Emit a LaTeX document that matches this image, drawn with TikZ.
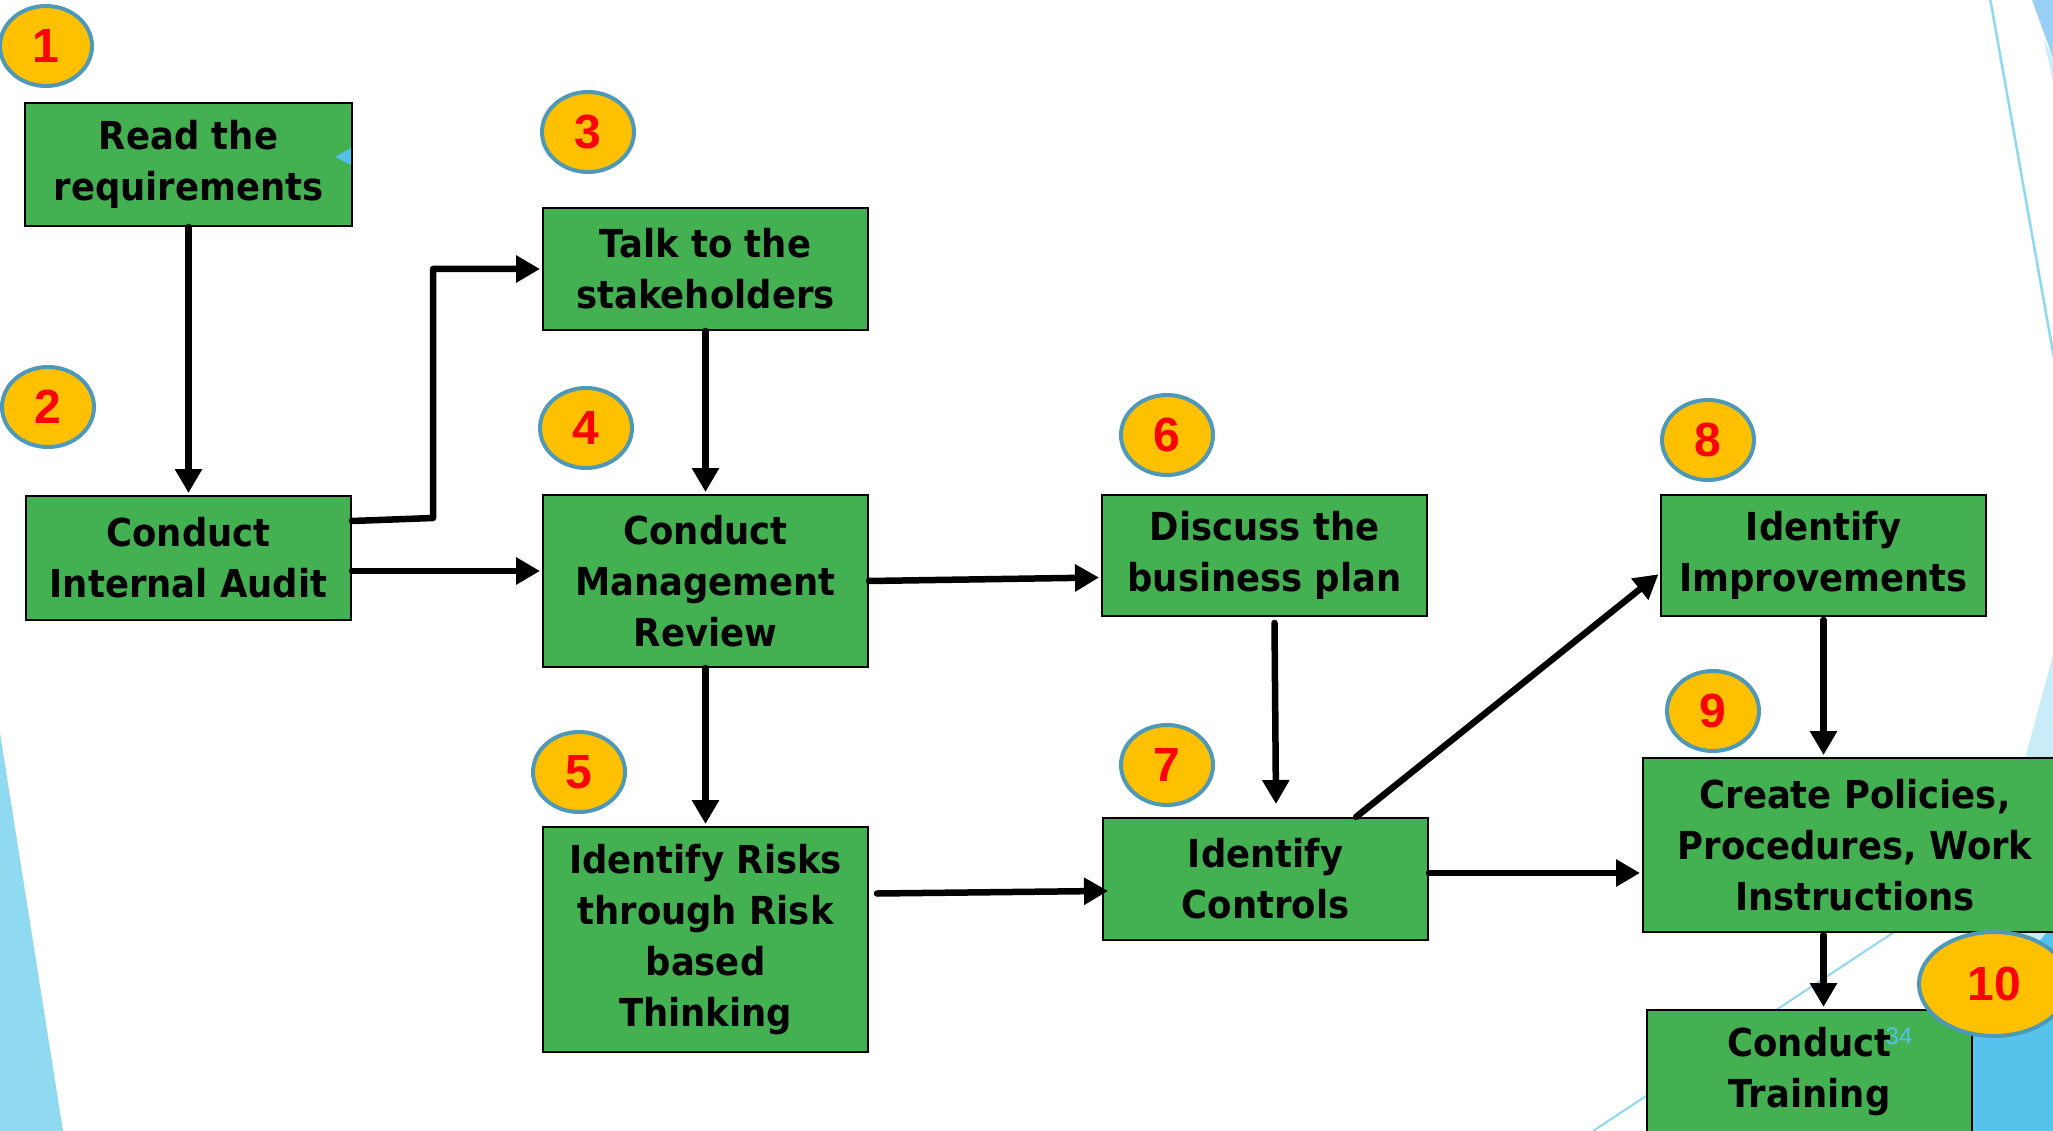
\documentclass[tikz,border=0pt]{standalone}
\usepackage{fontspec}
\setmainfont{DejaVu Sans}
\newfontfamily\boxfont[FakeStretch=0.92]{DejaVu Sans}
\newfontfamily\numfont{Liberation Sans}
\usetikzlibrary{arrows.meta,shapes.geometric}

\definecolor{boxgreen}{HTML}{43B051}
\definecolor{badgefill}{HTML}{FFC000}
\definecolor{badgeedge}{HTML}{4F99B8}
\definecolor{skyline}{HTML}{8ED8F2}
\definecolor{skyfill}{HTML}{8FD9F1}
\definecolor{skypale}{HTML}{C8ECF8}
\definecolor{skydeep}{HTML}{55C3EB}
\definecolor{pagenum}{HTML}{55C1EA}

\tikzset{
  stepbox/.style={draw=black, line width=2pt, fill=boxgreen, anchor=north west,
    inner sep=0pt, align=center, text=black,
    font=\boxfont\bfseries\fontsize{38.5}{51}\selectfont},
  badge/.style={ellipse, draw=badgeedge, line width=4pt, fill=badgefill,
    minimum width=92pt, minimum height=80pt, inner sep=0pt, text=red,
    font=\numfont\bfseries\fontsize{48}{48}\selectfont},
  flow/.style={draw=black, line width=6.5pt, line cap=round, line join=round,
    -{Triangle[length=24pt,width=26pt]}, shorten >=2pt},
}

\begin{document}
\begin{tikzpicture}[x=1pt,y=-1pt]
\useasboundingbox (0,0) rectangle (2053,1131);
\clip (0,0) rectangle (2053,1131);

% slide template decoration
\fill[skyfill] (0,733) -- (63,1131) -- (0,1131) -- cycle;
\draw[skyline, line width=2.5pt] (1990,-2) -- (2060,392);
\fill[skyfill!90!blue!80] (2032,0) -- (2053,0) -- (2053,58) -- cycle;
\fill[skypale] (2044,40) -- (2053,58) -- (2053,82) -- cycle;
\fill[skypale] (2053,655) -- (1960,1000) -- (2053,1000) -- cycle;
\draw[skyline, line width=2pt] (1593,1131) -- (2053,827);
\fill[skydeep] (2053,925) -- (2053,1131) -- (1880,1131) -- cycle;

% process steps
\node[stepbox, minimum width=327pt, minimum height=123pt] (read) at (24,102) {Read the\\requirements};
\node[stepbox, minimum width=325pt, minimum height=124pt] (audit) at (25,495) {Conduct\\Internal Audit};
\node[stepbox, minimum width=325pt, minimum height=122pt] (talk) at (542,207) {Talk to the\\stakeholders};
\node[stepbox, minimum width=325pt, minimum height=172pt] (review) at (542,494) {Conduct\\Management\\Review};
\node[stepbox, minimum width=325pt, minimum height=225pt] (risks) at (542,826) {Identify Risks\\through Risk\\based\\Thinking};
\node[stepbox, minimum width=325pt, minimum height=121pt] (discuss) at (1101,494) {Discuss the\\business plan};
\node[stepbox, minimum width=325pt, minimum height=122pt] (controls) at (1102,817) {Identify\\Controls};
\node[stepbox, minimum width=325pt, minimum height=121pt] (improve) at (1660,494) {Identify\\Improvements};
\node[stepbox, minimum width=424pt, minimum height=174pt] (policies) at (1642,757) {Create Policies,\\Procedures, Work\\Instructions};
\node[stepbox, minimum width=325pt, minimum height=123pt] (training) at (1646,1009) {Conduct\\Training};

% small marker on the first step
\fill[pagenum] (335,157) -- (351,148) -- (351,165) -- cycle;

% connectors
\draw[flow] (read.south) -- (audit.north);
\draw[flow] ([yshift=37pt]audit.east) -- ++(81,-3) |- (talk.west);
\draw[flow] ([yshift=-13pt]audit.east) -- ([yshift=10pt]review.west);
\draw[flow] (talk.south) -- (review.north);
\draw[flow] (review.east) -- ([yshift=-22pt]discuss.west);
\draw[flow] (review.south) -- (risks.north);
\draw[flow, shorten >=0pt] ([xshift=10pt,yshift=-6pt]discuss.south) -- ([xshift=10.5pt,yshift=13pt]controls.north);
\draw[flow, shorten >=-6pt] ([xshift=8pt,yshift=46pt]risks.east) -- ([yshift=-12pt]controls.west);
\draw[flow] ([xshift=90.5pt]controls.north) -- ([yshift=-17.5pt]improve.west);
\draw[flow] ([yshift=6pt]controls.east) -- ([yshift=-28pt]policies.west);
\draw[flow] ([yshift=-3pt]improve.south) -- (improve.south |- policies.north);
\draw[flow] ([yshift=-2pt]improve.south |- policies.south) -- (improve.south |- training.north);

% step numbers
\node[badge] (b1) at (46,46) {1};
\node[badge] (b2) at (48,407) {2};
\node[badge] (b3) at (588,132) {3};
\node[badge] (b4) at (586,428) {4};
\node[badge] (b5) at (579,772) {5};
\node[badge] (b6) at (1167,435) {6};
\node[badge] (b7) at (1167,765) {7};
\node[badge] (b8) at (1708,440) {8};
\node[badge] (b9) at (1713,711) {9};
\node[badge, minimum width=150pt, minimum height=104pt] (b10) at (1994,984) {10};

% slide number
\node[text=pagenum, font=\numfont\fontsize{24}{24}\selectfont, inner sep=0pt] (pg) at (1899,1036) {34};
\end{tikzpicture}
\end{document}
